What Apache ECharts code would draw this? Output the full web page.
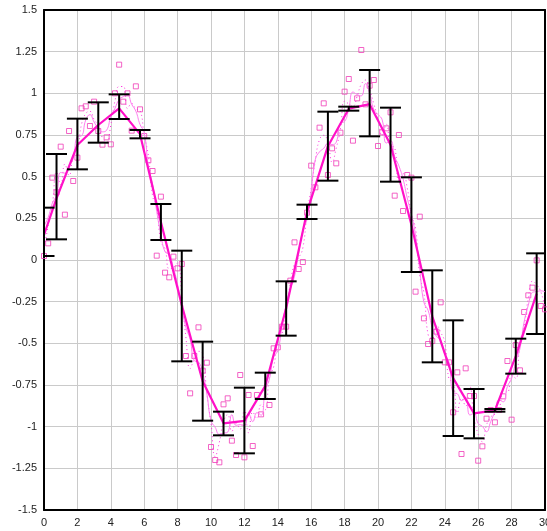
<!DOCTYPE html>
<html>
<head>
<meta charset="utf-8">
<script src="https://cdn.jsdelivr.net/npm/echarts@6/dist/echarts.min.js"></script>
<style>html,body{margin:0;padding:0;background:#fff;}#c{width:547px;height:531px;}</style>
</head>
<body>
<div id="c"></div>
<script>
// Scatter sample x positions
const scatterX = [0,0.25,0.5,0.75,1,1.25,1.5,1.75,2,2.25,
2.5,2.75,3,3.25,3.5,3.75,4,4.25,4.5,4.75,
5,5.25,5.5,5.75,6,6.25,6.5,6.75,7,7.25,
7.5,7.75,8,8.25,8.5,8.75,9,9.25,9.5,9.75,
10,10.25,10.5,10.75,11,11.25,11.5,11.75,12,12.25,
12.5,12.75,13,13.25,13.5,13.75,14,14.25,14.5,14.75,
15,15.25,15.5,15.75,16,16.25,16.5,16.75,17,17.25,
17.5,17.75,18,18.25,18.5,18.75,19,19.25,19.5,19.75,
20,20.25,20.5,20.75,21,21.25,21.5,21.75,22,22.25,
22.5,22.75,23,23.25,23.5,23.75,24,24.25,24.5,24.75,
25,25.25,25.5,25.75,26,26.25,26.5,26.75,27,27.25,
27.5,27.75,28,28.25,28.5,28.75,29,29.25,29.5,29.75,
30];
// Scatter sample values
const scatterY = [0.024,0.10,0.494,0.406,0.68,0.272,0.774,0.474,0.614,0.91,
0.922,0.804,0.95,0.774,0.692,0.736,0.694,1.0,1.172,0.95,
1.0,0.776,1.042,0.904,0.744,0.598,0.534,0.026,0.38,-0.076,
-0.104,0.02,-0.05,-0.024,-0.576,-0.80,-0.576,-0.404,-0.664,-0.616,
-1.122,-1.2,-1.214,-0.866,-0.83,-1.084,-1.17,-0.69,-1.184,-0.81,
-1.116,-0.81,-0.926,null,-0.87,-0.53,-0.524,-0.40,-0.40,-0.124,
0.106,-0.054,-0.012,0.284,0.566,0.436,0.794,0.94,0.51,0.67,
0.58,0.764,1.01,1.086,0.716,0.97,1.26,0.934,1.046,1.08,
0.684,0.766,0.79,0.886,0.386,0.75,0.294,0.51,0.494,-0.19,
0.26,-0.35,-0.504,-0.486,-0.43,-0.254,-0.614,-0.614,-0.914,-0.674,
-1.164,-0.65,-0.816,-0.816,-1.204,-1.118,-0.952,-0.90,-0.974,-0.90,
-0.818,-0.606,-0.958,-0.51,-0.662,-0.312,-0.212,-0.166,-0.002,-0.276,
-0.296];
// Dotted smoothed curve
const dottedY = [0.062,0.206,0.333,0.527,0.453,0.575,0.507,0.621,0.666,0.815,
0.879,0.892,0.843,0.805,0.734,0.707,0.81,0.955,1.041,1.041,
0.909,0.939,0.907,0.897,0.749,0.625,0.386,0.313,0.11,0.067,
-0.053,-0.045,-0.018,-0.217,-0.467,-0.651,-0.593,-0.548,-0.561,-0.801,
-0.979,-1.179,-1.093,-0.97,-0.927,-1.028,-0.981,-1.015,-0.895,-1.037,
-0.912,-0.951,-0.868,-0.898,-0.70,-0.641,-0.485,-0.441,-0.308,-0.139,
-0.024,0.013,0.073,0.279,0.429,0.599,0.723,0.748,0.707,0.587,
0.671,0.785,0.953,0.937,0.924,0.982,1.055,1.08,1.02,0.937,
0.843,0.747,0.814,0.687,0.674,0.477,0.518,0.433,0.271,0.188,
-0.093,-0.198,-0.447,-0.473,-0.39,-0.433,-0.494,-0.714,-0.734,-0.917,
-0.829,-0.877,-0.761,-0.945,-1.046,-1.091,-0.99,-0.942,-0.925,-0.897,
-0.775,-0.794,-0.691,-0.71,-0.495,-0.395,-0.23,-0.127,-0.148,-0.191,
-0.286];
// Thin solid smoothed curve
const smoothY = [0.206,0.256,0.341,0.39,0.525,0.521,0.563,0.609,0.739,0.745,
0.84,0.872,0.828,0.791,0.769,0.779,0.859,0.91,0.963,0.98,
0.988,0.934,0.893,0.813,0.764,0.561,0.456,0.292,0.152,0.049,
0.034,-0.047,-0.147,-0.286,-0.405,-0.476,-0.604,-0.612,-0.676,-0.801,
-0.963,-1.004,-1.046,-1.039,-1.033,-0.928,-0.992,-0.988,-0.994,-0.922,
-0.969,-0.916,-0.931,-0.784,-0.713,-0.581,-0.545,-0.396,-0.268,-0.174,
-0.097,0.04,0.178,0.244,0.414,0.604,0.649,0.67,0.699,0.693,
0.707,0.822,0.831,0.909,1.008,0.993,0.985,1.058,1.001,0.902,
0.873,0.841,0.702,0.716,0.621,0.565,0.487,0.372,0.274,0.145,
-0.058,-0.254,-0.302,-0.405,-0.458,-0.48,-0.565,-0.614,-0.796,-0.803,
-0.844,-0.824,-0.93,-0.921,-0.981,-0.998,-1.03,-0.969,-0.909,-0.84,
-0.851,-0.758,-0.711,-0.61,-0.531,-0.372,-0.271,-0.194,-0.19,-0.185,
-0.191];
// Group means with error bars
const binX = [0,0.75,2,3.25,4.5,5.75,7,8.25,9.5,10.75,12,13.25,14.5,15.75,17,18.25,19.5,20.75,22,23.25,24.5,25.75,27,28.25,29.5];
const binMean = [0.15,0.37,0.69,0.81,0.91,0.755,0.228,-0.27,-0.727,-0.98,-0.965,-0.755,-0.29,0.289,0.683,0.908,0.935,0.692,0.212,-0.338,-0.709,-0.92,-0.902,-0.577,-0.202];
const binHigh = [0.314,0.636,0.848,0.946,0.994,0.78,0.336,0.056,-0.49,-0.91,-0.766,-0.676,-0.128,0.332,0.89,0.92,1.14,0.914,0.496,-0.062,-0.362,-0.774,-0.894,-0.472,0.04];
const binLow = [0.024,0.124,0.544,0.704,0.846,0.73,0.12,-0.608,-0.964,-1.052,-1.16,-0.834,-0.454,0.246,0.476,0.896,0.742,0.47,-0.072,-0.614,-1.056,-1.07,-0.91,-0.682,-0.444];
const xTicks = {min:0, max:30, interval:2};
const yTicks = {min:-1.5, max:1.5, interval:0.25};

const scatterData = [];
scatterX.forEach((x,i)=>{ if (scatterY[i] !== null) scatterData.push([x, scatterY[i]]); });
const dottedData = scatterX.map((x,i)=>[x, dottedY[i]]);
const smoothData = scatterX.map((x,i)=>[x, smoothY[i]]);
const meanData = binX.map((x,i)=>[x, binMean[i]]);
const barData = binX.map((x,i)=>[x, binLow[i], binHigh[i]]);

function renderBar(params, api) {
  const x = api.value(0);
  const pLo = api.coord([x, api.value(1)]);
  const pHi = api.coord([x, api.value(2)]);
  const cs = params.coordSys;
  const half = 10.5;
  const l = Math.max(pHi[0] - half, cs.x);
  const r = Math.min(pHi[0] + half, cs.x + cs.width);
  const st = {stroke:'#000', lineWidth:2};
  return {type:'group', children:[
    {type:'line', shape:{x1:pHi[0], y1:pHi[1], x2:pLo[0], y2:pLo[1]}, style:st},
    {type:'line', shape:{x1:l, y1:pHi[1], x2:r, y2:pHi[1]}, style:st},
    {type:'line', shape:{x1:l, y1:pLo[1], x2:r, y2:pLo[1]}, style:st}
  ]};
}

const chart = echarts.init(document.getElementById('c'), null, {renderer:'canvas'});
const labelStyle = {color:'#222', fontSize:11, fontFamily:'Liberation Sans, Arial, sans-serif'};
chart.setOption({
  animation:false,
  backgroundColor:'#fff',
  grid:{left:44, right:2, top:10, bottom:21, containLabel:false, outerBoundsMode:'none'},
  xAxis:[
    {type:'value', min:xTicks.min, max:xTicks.max, interval:xTicks.interval, position:'bottom',
     axisLine:{show:true, onZero:false, lineStyle:{color:'#000', width:2}},
     axisTick:{show:false},
     axisLabel:Object.assign({margin:7}, labelStyle),
     splitLine:{show:true, lineStyle:{color:'#cacaca', width:1}}},
    {type:'value', min:xTicks.min, max:xTicks.max, interval:xTicks.interval, position:'top',
     axisLine:{show:true, onZero:false, lineStyle:{color:'#000', width:2}},
     axisTick:{show:false}, axisLabel:{show:false}, splitLine:{show:false}}
  ],
  yAxis:[
    {type:'value', min:yTicks.min, max:yTicks.max, interval:yTicks.interval, position:'left',
     axisLine:{show:true, onZero:false, lineStyle:{color:'#000', width:2}},
     axisTick:{show:false},
     axisLabel:Object.assign({margin:7}, labelStyle),
     splitLine:{show:true, lineStyle:{color:'#cacaca', width:1}}},
    {type:'value', min:yTicks.min, max:yTicks.max, interval:yTicks.interval, position:'right',
     axisLine:{show:true, onZero:false, lineStyle:{color:'#000', width:2}},
     axisTick:{show:false}, axisLabel:{show:false}, splitLine:{show:false}}
  ],
  series:[
    {type:'scatter', data:scatterData, symbol:'rect', symbolSize:5, clip:false, z:2,
     itemStyle:{color:'rgba(0,0,0,0)', borderColor:'#f03cb8', borderWidth:1}},
    {type:'line', data:dottedData, symbol:'none', z:3, smooth:true,
     lineStyle:{color:'#ff30e0', width:1, type:[1,3]}},
    {type:'line', data:smoothData, symbol:'none', z:3, smooth:true,
     lineStyle:{color:'#ff7cf0', width:1}},
    {type:'line', data:meanData, symbol:'none', z:4,
     lineStyle:{color:'#ff10c8', width:2.2}},
    {type:'custom', data:barData, renderItem:renderBar, z:5,
     encode:{x:0, y:[1,2]}}
  ]
});
</script>
</body>
</html>
